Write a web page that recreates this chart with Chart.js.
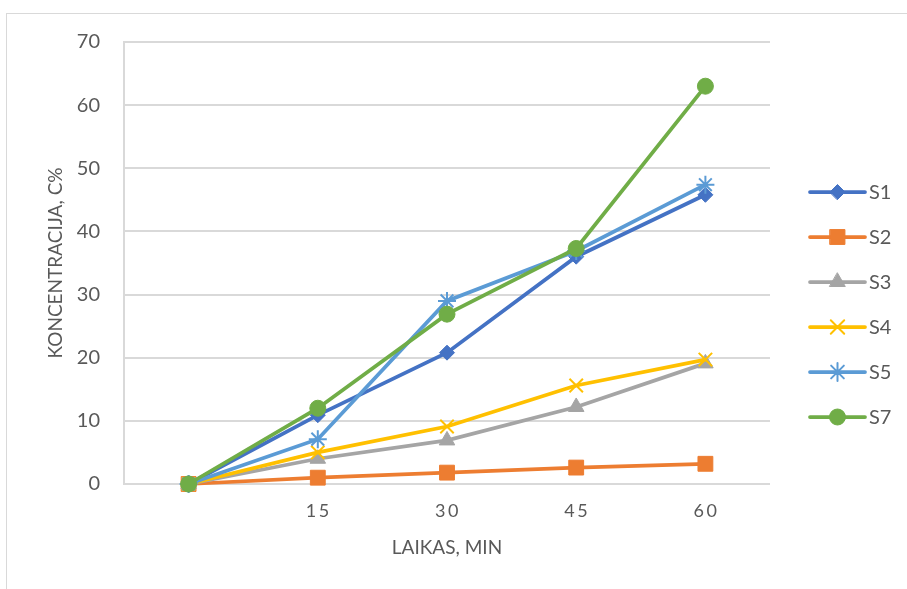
<!DOCTYPE html>
<html>
<head>
<meta charset="utf-8">
<script src="https://cdn.jsdelivr.net/npm/chart.js@4.4.1/dist/chart.umd.min.js"></script>
<style>
  html, body { margin: 0; padding: 0; background: #fff; overflow: hidden; }
  #frame { position: absolute; left: 6px; top: 13px; width: 905px; height: 640px; border: 1px solid #d9d9d9; box-sizing: border-box; }
  #wrap { position: absolute; left: 0; top: 0; width: 907px; height: 589px; }
</style>
</head>
<body>
<div id="frame"></div>
<div id="wrap"><canvas id="c"></canvas></div>
<script>
// Sampling times (min); the first category is the unlabeled start point
const categories = ['', '15', '30', '45', '60'];
const yTicks = [0, 10, 20, 30, 40, 50, 60, 70];

// Concentration C% per sample
const s1 = [0, 10.9, 20.8, 36.0, 45.8];
const s2 = [0, 1.0, 1.8, 2.6, 3.2];
const s3 = [0, 4.0, 6.9, 12.2, 19.1];
const s4 = [0, 5.0, 9.1, 15.6, 19.7];
const s5 = [0, 7.1, 29.0, 36.9, 47.4];
const s7 = [0, 12.0, 26.9, 37.3, 63.0];

const seriesNames = ['S1', 'S2', 'S3', 'S4', 'S5', 'S7'];
const seriesValues = [s1, s2, s3, s4, s5, s7];
const seriesColors = ['#4472C4', '#ED7D31', '#A5A5A5', '#FFC000', '#5B9BD5', '#70AD47'];
const seriesMarkers = ['rectRot', 'rect', 'triangle', 'crossRot', 'star', 'circle'];
const markerRadius = [7.5, 10.5, 9, 9.5, 9, 8];
const markerBorder = [1, 1, 1, 2, 2, 1];

const FONT = 'Lato, "Liberation Sans", sans-serif';
const TEXT = '#595959';
const GRID = '#d9d9d9';

const datasets = seriesNames.map((name, i) => ({
  label: name,
  data: seriesValues[i],
  borderColor: seriesColors[i],
  backgroundColor: seriesColors[i],
  pointBackgroundColor: seriesColors[i],
  pointBorderColor: seriesColors[i],
  pointStyle: seriesMarkers[i],
  pointRadius: markerRadius[i],
  pointHoverRadius: markerRadius[i],
  pointBorderWidth: markerBorder[i],
  borderWidth: 3.75,
  tension: 0,
  fill: false,
  clip: false,
  order: seriesNames.length - i   // later series drawn on top
}));

// Legend on the right: short line with the series marker in its middle
const sideLegend = {
  id: 'sideLegend',
  afterDraw(chart) {
    const ctx = chart.ctx;
    const x0 = 810, x1 = 865, top = 192, step = 45;
    ctx.save();
    chart.data.datasets.forEach((ds, i) => {
      const y = top + i * step;
      ctx.strokeStyle = ds.borderColor;
      ctx.lineWidth = 3.75;
      ctx.lineCap = 'round';
      ctx.beginPath();
      ctx.moveTo(x0, y);
      ctx.lineTo(x1, y);
      ctx.stroke();
      ctx.fillStyle = ds.pointBackgroundColor;
      ctx.strokeStyle = ds.pointBorderColor;
      ctx.lineWidth = ds.pointBorderWidth;
      Chart.helpers.drawPoint(ctx, {
        pointStyle: ds.pointStyle,
        radius: ds.pointRadius,
        rotation: 0,
        borderWidth: ds.pointBorderWidth
      }, (x0 + x1) / 2, y);
      ctx.fillStyle = TEXT;
      ctx.font = '20px ' + FONT;
      ctx.textAlign = 'left';
      ctx.textBaseline = 'middle';
      ctx.fillText(ds.label, x1 + 4, y + 1);
    });
    ctx.restore();
  }
};

// Spaced-out digits on the time axis
const spacedTicks = {
  id: 'spacedTicks',
  afterLayout(chart) {
    const sc = chart.scales.x;
    if (sc && !sc._spaced) {
      const orig = sc.drawLabels.bind(sc);
      sc.drawLabels = function (area) {
        const ctx = this.ctx;
        ctx.save();
        ctx.letterSpacing = '2.5px';
        ctx.translate(1, 0);
        orig(area);
        ctx.restore();
      };
      sc._spaced = true;
    }
  }
};

new Chart(document.getElementById('c'), {
  type: 'line',
  data: { labels: categories, datasets },
  plugins: [sideLegend, spacedTicks],
  options: {
    responsive: true,
    maintainAspectRatio: false,
    animation: false,
    events: [],
    layout: { padding: { left: 0, top: 42, right: 137, bottom: 0 } },
    plugins: { legend: { display: false }, tooltip: { enabled: false } },
    scales: {
      x: {
        type: 'category',
        offset: true,
        grid: { display: false, drawTicks: false },
        border: { display: false },
        ticks: { color: TEXT, font: { family: FONT, size: 18 }, padding: 16, maxRotation: 0, autoSkip: false },
        title: { display: true, text: 'LAIKAS, MIN', color: TEXT, font: { family: FONT, size: 19 }, padding: { top: 0, bottom: 30 } },
        afterFit(scale) { scale.height = 105; }
      },
      y: {
        min: 0,
        max: 70,
        afterBuildTicks(scale) { scale.ticks = yTicks.map(v => ({ value: v })); },
        grid: { color: GRID, lineWidth: 2, drawTicks: false },
        border: { display: true, color: GRID, width: 2 },
        ticks: { color: TEXT, font: { family: FONT, size: 20 }, padding: 24 },
        title: { display: true, text: 'KONCENTRACIJA, C%', color: TEXT, font: { family: FONT, size: 19 }, padding: { top: 44, bottom: 0 } },
        afterFit(scale) { scale.width = 124; }
      }
    }
  }
});
</script>
</body>
</html>
